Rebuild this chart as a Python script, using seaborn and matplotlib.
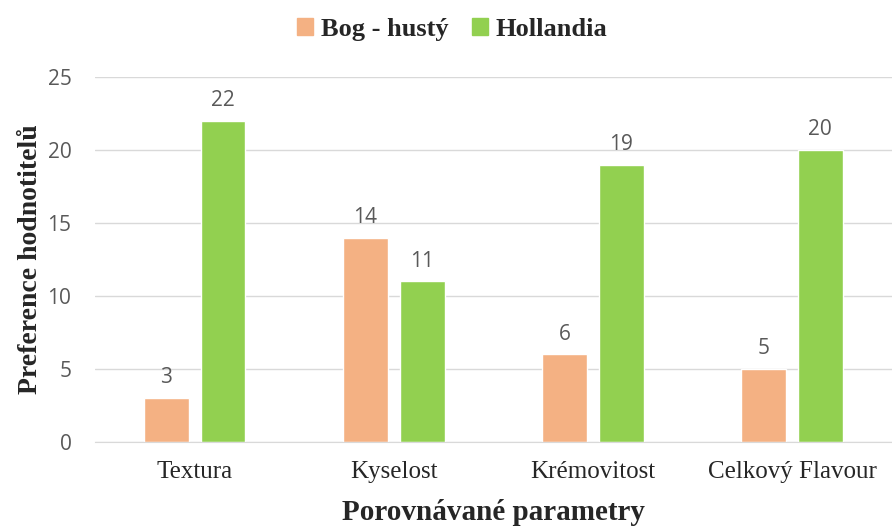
import pandas as pd
import matplotlib
matplotlib.use("Agg")
import matplotlib.pyplot as plt
import seaborn as sns

# Data
categories = ["Textura", "Kyselost", "Krémovitost", "Celkový Flavour"]
series = ["Bog - hustý", "Hollandia"]
bog_values = [3, 14, 6, 5]
hollandia_values = [22, 11, 19, 20]
y_ticks = [0, 5, 10, 15, 20, 25]

df = pd.DataFrame({
    "kategorie": categories * 2,
    "vzorek": [series[0]] * 4 + [series[1]] * 4,
    "hodnota": bog_values + hollandia_values,
})

palette = {series[0]: "#F4B183", series[1]: "#92D050"}

sns.set_style("white")
serif = ["Liberation Serif", "DejaVu Serif"]
sans = ["Open Sans", "DejaVu Sans"]

fig = plt.figure(figsize=(8.92, 5.28), dpi=100)
ax = fig.add_axes([0.1065, 0.163, 0.893, 0.691])

sns.barplot(
    data=df,
    x="kategorie",
    y="hodnota",
    hue="vzorek",
    palette=palette,
    width=0.57,
    gap=0.21,
    saturation=1,
    legend=False,
    ax=ax,
)

for container in ax.containers:
    ax.bar_label(
        container,
        padding=7,
        fontsize=15,
        color="#595959",
        family=sans,
    )

ax.set_ylim(0, 25)
ax.set_xlim(-0.5, 3.5)
ax.set_yticks(y_ticks)
ax.yaxis.grid(True, color="#d9d9d9", linewidth=1)
ax.set_axisbelow(True)

for side in ["top", "right", "left"]:
    ax.spines[side].set_visible(False)
ax.spines["bottom"].set_color("#d9d9d9")

ax.tick_params(axis="y", length=0, pad=17, labelsize=15, labelcolor="#595959")
ax.tick_params(axis="x", length=0, pad=14, labelsize=18)
for lbl in ax.get_yticklabels():
    lbl.set_family(sans)
for lbl in ax.get_xticklabels():
    lbl.set_family(serif)

ax.set_xlabel(
    "Porovnávané parametry",
    fontsize=21,
    fontweight="bold",
    family=serif,
    labelpad=11,
)
ax.set_ylabel(
    "Preference hodnotitelů",
    fontsize=20,
    fontweight="bold",
    family=serif,
    labelpad=3,
)

handles = [
    plt.Rectangle((0, 0), 1, 1, color=palette[s]) for s in series
]
fig.legend(
    handles,
    series,
    loc="upper center",
    bbox_to_anchor=(0.507, 1.011),
    ncol=2,
    frameon=False,
    prop={"family": serif, "weight": "bold", "size": 19},
    handlelength=0.6,
    handleheight=0.6,
    handletextpad=0.3,
    columnspacing=0.9,
)

fig.savefig("out.png", dpi=100)
plt.close(fig)
